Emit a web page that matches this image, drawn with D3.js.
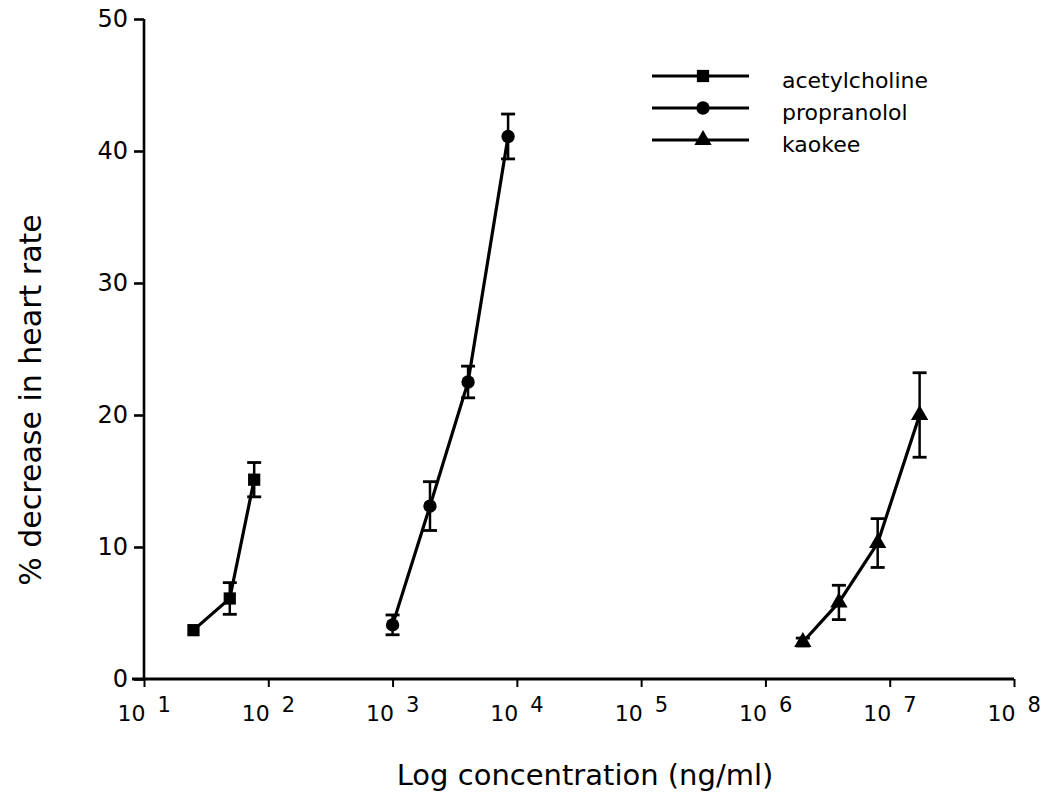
<!DOCTYPE html>
<html>
<head>
<meta charset="utf-8">
<script src="https://cdn.jsdelivr.net/npm/d3@7"></script>
<style>
	body { margin: 0; background: #fff; }
	text { font-family: "DejaVu Sans", "Liberation Sans", sans-serif; fill: #000; }
</style>
</head>
<body>
<div id="chart-container"></div>
<script>
// data (concentration in ng/ml, mean and SEM in %)
const achConc = [25, 49, 77];
const achMean = [3.7, 6.1, 15.1];
const achErr = [0, 1.2, 1.3];

const propConc = [1000, 2000, 4050, 8500];
const propMean = [4.1, 13.1, 22.5, 41.1];
const propErr = [0.75, 1.85, 1.2, 1.7];

const kaoConc = [2e6, 3.9e6, 8e6, 1.74e7];
const kaoMean = [2.8, 5.8, 10.3, 20.0];
const kaoErr = [0.3, 1.3, 1.85, 3.2];

const xTickExp = [1, 2, 3, 4, 5, 6, 7, 8];
const yTicks = [0, 10, 20, 30, 40, 50];
const seriesNames = ['acetylcholine', 'propranolol', 'kaokee'];

var heartChart = heartChart || {};

heartChart.draw = function() {
	const width = 1049;
	const height = 798;

	const svg = d3
		.select('#chart-container')
		.append('svg')
		.attr('width', width)
		.attr('height', height);

	const x = d3.scaleLog().domain([10, 1e8]).range([144, 1014]);
	const y = d3.scaleLinear().domain([0, 50]).range([679, 19]);

	const symbols = [d3.symbolSquare, d3.symbolCircle, d3.symbolTriangle];
	const sizes = [150, 140, 130];

	// y axis
	const yAxis = svg
		.append('g')
		.attr('transform', `translate(${x(10)},0)`)
		.call(d3.axisLeft(y).tickValues(yTicks).tickSize(10).tickFormat(d3.format('d')));
	yAxis.select('.domain').attr('stroke-width', 2.6).attr('d', `M0,${y(50)}V${y(0)}`);
	yAxis.selectAll('.tick line').attr('stroke-width', 2.6);
	yAxis.selectAll('.tick text').attr('x', -16).style('font-size', '24px');

	// x axis with superscript labels
	const xAxis = svg
		.append('g')
		.attr('transform', `translate(0,${y(0)})`)
		.call(
			d3
				.axisBottom(x)
				.tickValues(xTickExp.map((e) => Math.pow(10, e)))
				.tickSize(8)
				.tickFormat(() => '')
		);
	xAxis.select('.domain').attr('stroke-width', 2.8).attr('d', `M${x(10) - 12},0H${x(1e8)}`);
	xAxis.selectAll('.tick line').attr('stroke-width', 2);

	const labels = xAxis
		.selectAll('.tick')
		.data(xTickExp)
		.append('text')
		.attr('y', 42)
		.attr('text-anchor', 'start')
		.style('font-size', '22px');
	labels.append('tspan').attr('x', -27).text('10');
	labels
		.append('tspan')
		.attr('x', 13)
		.attr('dy', -9)
		.style('font-size', '21px')
		.text((d) => d);

	// series
	const series = [
		{ conc: achConc, mean: achMean, err: achErr },
		{ conc: propConc, mean: propMean, err: propErr },
		{ conc: kaoConc, mean: kaoMean, err: kaoErr },
	];

	const line = d3
		.line()
		.x((d) => x(d[0]))
		.y((d) => y(d[1]));

	series.forEach((s, i) => {
		const pts = s.conc.map((c, j) => [c, s.mean[j], s.err[j]]);
		const g = svg.append('g');

		g.append('path')
			.datum(pts)
			.attr('d', line)
			.attr('fill', 'none')
			.attr('stroke', '#000')
			.attr('stroke-width', 3.2);

		// error bars (skip points with no visible SEM)
		const bars = g
			.selectAll('.err')
			.data(pts.filter((d) => d[2] > 0))
			.enter()
			.append('g');
		bars.append('line')
			.attr('x1', (d) => x(d[0]))
			.attr('x2', (d) => x(d[0]))
			.attr('y1', (d) => y(d[1] + d[2]))
			.attr('y2', (d) => y(d[1] - d[2]))
			.attr('stroke', '#000')
			.attr('stroke-width', 2.5);
		[1, -1].forEach((sign) => {
			bars.append('line')
				.attr('x1', (d) => x(d[0]) - 7)
				.attr('x2', (d) => x(d[0]) + 7)
				.attr('y1', (d) => y(d[1] + sign * d[2]))
				.attr('y2', (d) => y(d[1] + sign * d[2]))
				.attr('stroke', '#000')
				.attr('stroke-width', 2.8);
		});

		g.selectAll('.pt')
			.data(pts)
			.enter()
			.append('path')
			.attr('transform', (d) => `translate(${x(d[0])},${y(d[1])})`)
			.attr('d', d3.symbol().type(symbols[i]).size(sizes[i]))
			.attr('fill', '#000');
	});

	// legend
	const legend = svg.append('g').attr('transform', 'translate(652,76)');
	seriesNames.forEach((name, i) => {
		const row = legend.append('g').attr('transform', `translate(0,${i * 32})`);
		row.append('line')
			.attr('x1', 0)
			.attr('x2', 97)
			.attr('stroke', '#000')
			.attr('stroke-width', 3);
		row.append('path')
			.attr('transform', 'translate(51,0)')
			.attr('d', d3.symbol().type(symbols[i]).size(sizes[i]))
			.attr('fill', '#000');
		row.append('text')
			.attr('x', 130)
			.attr('y', 12)
			.style('font-size', '22px')
			.text(name);
	});

	// axis titles
	svg.append('text')
		.attr('x', 585)
		.attr('y', 785)
		.attr('text-anchor', 'middle')
		.style('font-size', '29px')
		.text('Log concentration (ng/ml)');

	svg.append('text')
		.attr('transform', 'translate(41,400) rotate(-90)')
		.attr('text-anchor', 'middle')
		.style('font-size', '30px')
		.text('% decrease in heart rate');
};

heartChart.draw();
</script>
</body>
</html>
